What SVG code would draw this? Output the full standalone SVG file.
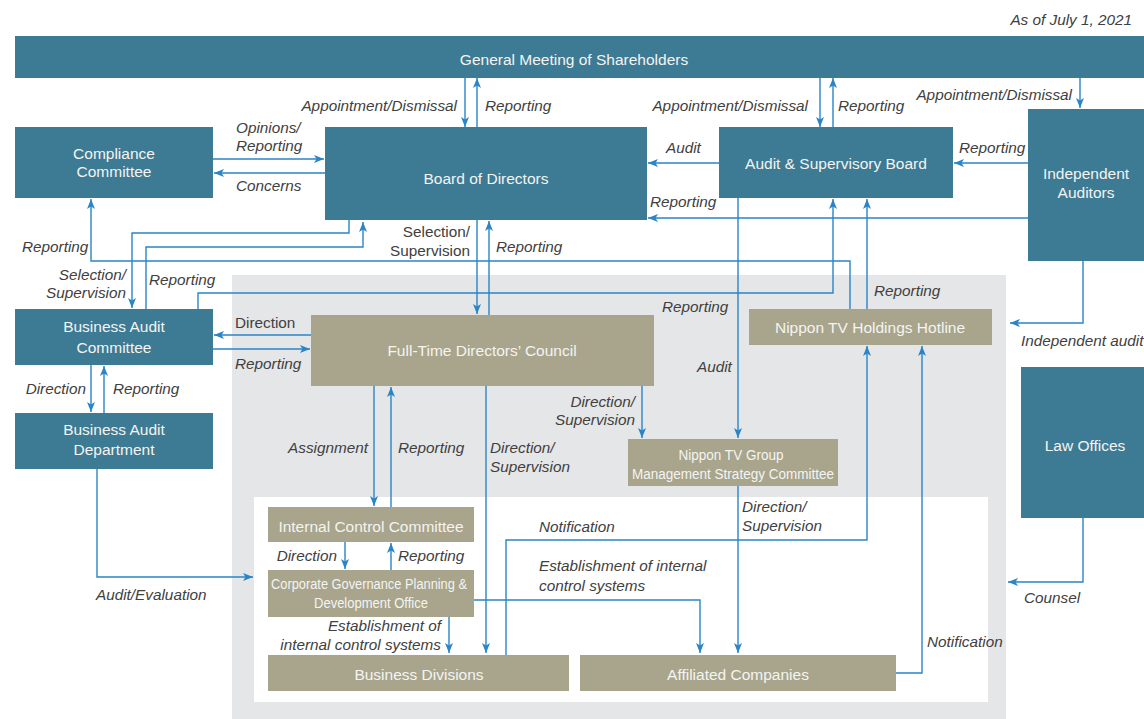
<svg xmlns="http://www.w3.org/2000/svg" width="1144" height="719" viewBox="0 0 1144 719">
<defs>
<style>
.t{fill:#3d7a93}
.k{fill:#a8a58c}
.nt{font-family:"Liberation Sans",Arial,sans-serif;font-size:15.5px;fill:#f4f4f2;text-anchor:middle}
.sm{font-size:14px}
.lb{font-family:"Liberation Sans",Arial,sans-serif;font-size:15.3px;fill:#404040;font-style:italic}
.up{font-style:normal}
.e{text-anchor:end}
.c{fill:none;stroke:#2a85c6;stroke-width:1.4;marker-end:url(#a)}
</style>
<marker id="a" markerUnits="userSpaceOnUse" markerWidth="10" markerHeight="8" refX="10" refY="4" orient="auto">
<path d="M0,0 L10,4 L0,8 L2.5,4 Z" fill="#2a85c6"/>
</marker>
</defs>
<rect width="1144" height="719" fill="#ffffff"/>
<rect x="232" y="275" width="774" height="444" fill="#e5e6e8"/>
<rect x="254" y="497" width="734" height="205" fill="#ffffff"/>
<text class="lb" x="1132" y="25" text-anchor="end">As of July 1, 2021</text>

<g id="connectors">
<path class="c" d="M465,78 V127"/>
<path class="c" d="M477,127 V78"/>
<path class="c" d="M820,78 V127"/>
<path class="c" d="M833,127 V78"/>
<path class="c" d="M1080,78 V108"/>
<path class="c" d="M213,159 H324"/>
<path class="c" d="M325,173 H214"/>
<path class="c" d="M719,163 H648"/>
<path class="c" d="M1028,163 H954"/>
<path class="c" d="M1028,218 H648"/>
<path class="c" d="M850,309 V261 H91 V199"/>
<path class="c" d="M349,220 V233 H132 V308"/>
<path class="c" d="M146,309 V247 H363 V222"/>
<path class="c" d="M198,309 V293 H833 V199"/>
<path class="c" d="M867,309 V199"/>
<path class="c" d="M477,220 V314"/>
<path class="c" d="M489,315 V221"/>
<path class="c" d="M738,198 V438"/>
<path class="c" d="M1083,261 V323 H1010"/>
<path class="c" d="M311,335 H214"/>
<path class="c" d="M213,349 H310"/>
<path class="c" d="M91,365 V412"/>
<path class="c" d="M104,413 V366"/>
<path class="c" d="M374,386 V506"/>
<path class="c" d="M391,507 V387"/>
<path class="c" d="M486,386 V653"/>
<path class="c" d="M642,386 V438"/>
<path class="c" d="M738,486 V653"/>
<path class="c" d="M506,655 V540 H867 V346"/>
<path class="c" d="M896,673 H922 V346"/>
<path class="c" d="M1083,518 V582 H1008"/>
<path class="c" d="M97,469 V577 H253"/>
<path class="c" d="M345,542 V569"/>
<path class="c" d="M391,570 V543"/>
<path class="c" d="M449,617 V653"/>
<path class="c" d="M474,600 H700 V653"/>
</g>

<g id="general-meeting"><rect class="t" x="15" y="36" width="1129" height="42"/><text class="nt" x="574" y="65">General Meeting of Shareholders</text></g>
<g id="compliance"><rect class="t" x="15" y="127" width="198" height="71"/><text class="nt" x="114" y="159">Compliance</text><text class="nt" x="114" y="177">Committee</text></g>
<g id="board"><rect class="t" x="325" y="127" width="322" height="93"/><text class="nt" x="486" y="184">Board of Directors</text></g>
<g id="audit-board"><rect class="t" x="719" y="127" width="234" height="71"/><text class="nt" x="836" y="169">Audit &amp; Supervisory Board</text></g>
<g id="independent-auditors"><rect class="t" x="1028" y="109" width="116" height="152"/><text class="nt" x="1086" y="179">Independent</text><text class="nt" x="1086" y="198">Auditors</text></g>
<g id="hotline"><rect class="k" x="749" y="309" width="243" height="36"/><text class="nt" x="870" y="333">Nippon TV Holdings Hotline</text></g>
<g id="business-audit-committee"><rect class="t" x="15" y="309" width="198" height="56"/><text class="nt" x="114" y="332">Business Audit</text><text class="nt" x="114" y="353">Committee</text></g>
<g id="business-audit-department"><rect class="t" x="15" y="413" width="198" height="56"/><text class="nt" x="114" y="435">Business Audit</text><text class="nt" x="114" y="455">Department</text></g>
<g id="council"><rect class="k" x="311" y="315" width="343" height="71"/><text class="nt" x="482" y="356">Full-Time Directors’ Council</text></g>
<g id="group-committee"><rect class="k" x="628" y="439" width="210" height="47"/><text class="nt sm" x="731" y="460" textLength="105" lengthAdjust="spacingAndGlyphs">Nippon TV Group</text><text class="nt sm" x="733" y="479" textLength="202" lengthAdjust="spacingAndGlyphs">Management Strategy Committee</text></g>
<g id="law-offices"><rect class="t" x="1021" y="367" width="123" height="151"/><text class="nt" x="1085" y="451">Law Offices</text></g>
<g id="internal-control"><rect class="k" x="268" y="507" width="206" height="35"/><text class="nt" x="371" y="532">Internal Control Committee</text></g>
<g id="cgpdo"><rect class="k" x="268" y="570" width="206" height="47"/><text class="nt sm" x="369" y="589" textLength="196" lengthAdjust="spacingAndGlyphs">Corporate Governance Planning &amp;</text><text class="nt sm" x="371" y="608" textLength="114" lengthAdjust="spacingAndGlyphs">Development Office</text></g>
<g id="business-divisions"><rect class="k" x="268" y="655" width="301" height="36"/><text class="nt" x="419" y="680">Business Divisions</text></g>
<g id="affiliated"><rect class="k" x="580" y="655" width="316" height="36"/><text class="nt" x="738" y="680">Affiliated Companies</text></g>

<g id="labels">
<text class="lb e" x="457" y="111">Appointment/Dismissal</text>
<text class="lb" x="485" y="111">Reporting</text>
<text class="lb e" x="808" y="111">Appointment/Dismissal</text>
<text class="lb" x="838" y="111">Reporting</text>
<text class="lb e" x="1072" y="100">Appointment/Dismissal</text>
<text class="lb" x="236" y="133">Opinions/</text>
<text class="lb" x="236" y="151">Reporting</text>
<text class="lb" x="236" y="191">Concerns</text>
<text class="lb" x="666" y="153">Audit</text>
<text class="lb" x="959" y="153">Reporting</text>
<text class="lb" x="650" y="207">Reporting</text>
<text class="lb" x="22" y="252">Reporting</text>
<text class="lb e" x="126" y="280">Selection/</text>
<text class="lb e" x="126" y="298">Supervision</text>
<text class="lb" x="149" y="285">Reporting</text>
<text class="lb up e" x="470" y="237">Selection/</text>
<text class="lb up e" x="470" y="256">Supervision</text>
<text class="lb" x="496" y="252">Reporting</text>
<text class="lb" x="662" y="312">Reporting</text>
<text class="lb" x="874" y="296">Reporting</text>
<text class="lb" x="697" y="372">Audit</text>
<text class="lb" x="1021" y="346">Independent audit</text>
<text class="lb up" x="235" y="328">Direction</text>
<text class="lb" x="235" y="369">Reporting</text>
<text class="lb e" x="86" y="394">Direction</text>
<text class="lb" x="113" y="394">Reporting</text>
<text class="lb e" x="368" y="453">Assignment</text>
<text class="lb" x="398" y="453">Reporting</text>
<text class="lb" x="490" y="453">Direction/</text>
<text class="lb" x="490" y="472">Supervision</text>
<text class="lb e" x="635" y="407">Direction/</text>
<text class="lb e" x="635" y="425">Supervision</text>
<text class="lb" x="742" y="512">Direction/</text>
<text class="lb" x="742" y="531">Supervision</text>
<text class="lb" x="539" y="532">Notification</text>
<text class="lb" x="539" y="571">Establishment of internal</text>
<text class="lb" x="539" y="591">control systems</text>
<text class="lb e" x="337" y="561">Direction</text>
<text class="lb" x="398" y="561">Reporting</text>
<text class="lb" x="96" y="600">Audit/Evaluation</text>
<text class="lb e" x="441" y="631">Establishment of</text>
<text class="lb e" x="441" y="650">internal control systems</text>
<text class="lb" x="927" y="647">Notification</text>
<text class="lb" x="1024" y="603">Counsel</text>
</g>
</svg>
